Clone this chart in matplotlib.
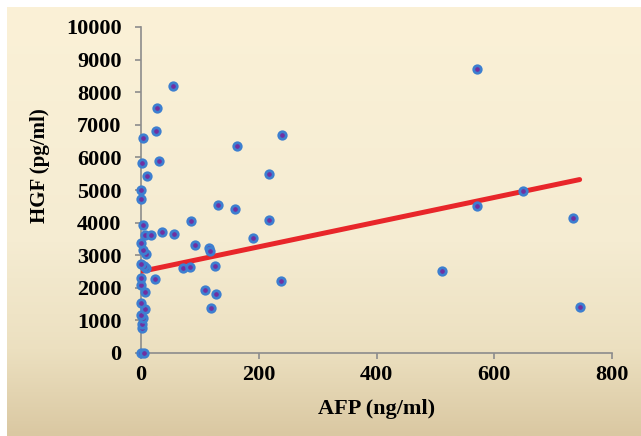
import numpy as np
import matplotlib.pyplot as plt
from matplotlib.colors import LinearSegmentedColormap

# AFP (ng/ml) vs HGF (pg/ml)
afp = [0, 5, 2, 1, 4, 0, 7, 0, 7, 0, 0, 24, 9, 5, 0, 9, 3, 0,
       7, 17, 36, 56, 3, 0, 0, 10, 2, 31, 3, 26, 27, 55,
       72, 84, 85, 92, 108, 116, 118, 119, 125, 128, 130, 160, 163,
       191, 217, 217, 237, 239,
       512, 570, 570, 648, 734, 746]
hgf = [0, 0, 760, 900, 1070, 1170, 1350, 1530, 1870, 2090, 2300, 2270, 2600, 2670, 2730, 3040, 3160, 3370,
       3620, 3620, 3710, 3650, 3930, 4730, 5000, 5430, 5830, 5880, 6600, 6800, 7500, 8200,
       2610, 2640, 4050, 3310, 1930, 3220, 3130, 1380, 2670, 1810, 4540, 4420, 6350,
       3530, 5490, 4080, 2210, 6680,
       2520, 8710, 4510, 4970, 4140, 1410]

# trend line
line_x = [0, 745]
line_y = [2500, 5320]

fig = plt.figure(figsize=(6.41, 4.36), dpi=100)

# beige gradient background
bg = fig.add_axes([7 / 641, 0, 1 - 7 / 641, 1 - 7 / 436], zorder=-10)
cmap = LinearSegmentedColormap.from_list(
    "bg", [(0, "#fbf1d7"), (0.55, "#f5ecd2"), (0.8, "#ece0c0"), (1, "#dac8a2")])
bg.imshow(np.linspace(0, 1, 256).reshape(-1, 1), aspect="auto", cmap=cmap,
          extent=[0, 1, 1, 0])
bg.axis("off")

ax = fig.add_axes([141 / 641, 1 - 353 / 436, (612 - 141) / 641, (353 - 27) / 436])
ax.patch.set_alpha(0)

ax.plot(line_x, line_y, color="#e8262a", linewidth=3.6, solid_capstyle="round", zorder=3)
ax.plot(afp, hgf, "o", markersize=5.4, markerfacecolor="#7030a0",
        markeredgecolor="#3d7fd0", markeredgewidth=2.0, clip_on=False, zorder=4)

ax.set_xlim(0, 800)
ax.set_ylim(0, 10000)
ax.set_xticks(range(0, 801, 200))
ax.set_yticks(range(0, 10001, 1000))

for s in ["top", "right"]:
    ax.spines[s].set_visible(False)
for s in ["left", "bottom"]:
    ax.spines[s].set_color("#8c8c8c")
    ax.spines[s].set_linewidth(1.2)

ax.tick_params(axis="both", color="#8c8c8c", length=4, width=1.2)
ax.tick_params(axis="y", pad=10)
ax.tick_params(axis="x", pad=5)
for lab in ax.get_xticklabels() + ax.get_yticklabels():
    lab.set_fontfamily("Liberation Serif")
    lab.set_fontweight("bold")
    lab.set_fontsize(16)

ax.set_xlabel("AFP (ng/ml)", fontfamily="Liberation Serif", fontweight="bold",
              fontsize=16, labelpad=10)
ax.set_ylabel("HGF (pg/ml)", fontfamily="Liberation Serif", fontweight="bold",
              fontsize=15)
ax.yaxis.set_label_coords(-0.193, 0.575)

plt.savefig("out.png", dpi=100)
